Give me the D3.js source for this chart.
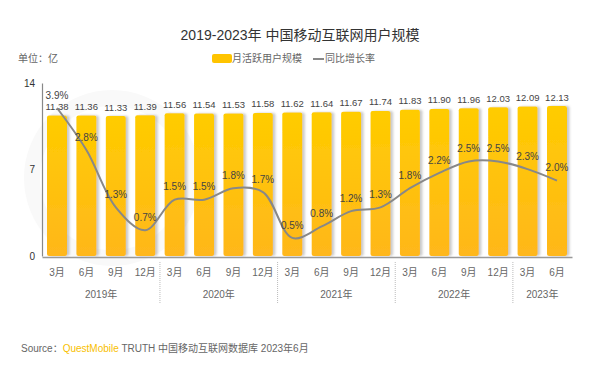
<!DOCTYPE html>
<html><head><meta charset="utf-8">
<script src="https://cdn.jsdelivr.net/npm/d3@7/dist/d3.min.js"></script>
<style>
html,body{margin:0;padding:0;background:#fff;}
svg text{font-family:"Liberation Sans","Noto Sans CJK SC",sans-serif;}
</style></head>
<body>
<svg id="chart" width="600" height="369"></svg>
<script>
const months = ["3月","6月","9月","12月","3月","6月","9月","12月","3月","6月","9月","12月","3月","6月","9月","12月","3月","6月"];
const yearLabels = ["2019年","2020年","2021年","2022年","2023年"];
const yearSizes = [4,4,4,4,2];
const mau = [11.38,11.36,11.33,11.39,11.56,11.54,11.53,11.58,11.62,11.64,11.67,11.74,11.83,11.90,11.96,12.03,12.09,12.13];
const growth = [3.9,2.8,1.3,0.7,1.5,1.5,1.8,1.7,0.5,0.8,1.2,1.3,1.8,2.2,2.5,2.5,2.3,2.0];
const yTicks = [0,7,14];

const svg = d3.select("#chart");
svg.append("rect").attr("width",600).attr("height",369).attr("fill","#fff");

const defs = svg.append("defs");
const grad = defs.append("linearGradient").attr("id","barGrad").attr("x1",0).attr("y1",0).attr("x2",0).attr("y2",1);
grad.append("stop").attr("offset","0%").attr("stop-color","#FFCC00");
grad.append("stop").attr("offset","100%").attr("stop-color","#FFB71B");
const f = defs.append("filter").attr("id","shadow").attr("x","-20%").attr("y","-5%").attr("width","150%").attr("height","110%");
f.append("feDropShadow").attr("dx",2.5).attr("dy",0).attr("stdDeviation",1).attr("flood-color","#888").attr("flood-opacity",0.45);

// faint watermark
svg.append("circle").attr("cx",112).attr("cy",178).attr("r",80)
  .attr("fill","none").attr("stroke","#f9f9f9").attr("stroke-width",16);

const x = d3.scaleBand().domain(d3.range(mau.length)).range([42,572]).paddingInner(0.32).paddingOuter(0.17);
const y = d3.scaleLinear().domain([0,14]).range([256,83]);
const y2 = d3.scaleLinear().domain([0,4.58]).range([257,82]);

// title
svg.append("text").attr("x",300).attr("y",36).attr("text-anchor","middle").attr("dominant-baseline","middle")
  .attr("font-size",14).attr("fill","#333").text("2019-2023年 中国移动互联网用户规模");
svg.append("text").attr("x",18).attr("y",59).attr("dominant-baseline","middle")
  .attr("font-size",10).attr("fill","#666").text("单位：亿");

// legend
svg.append("rect").attr("x",212).attr("y",54).attr("width",20).attr("height",9).attr("rx",2).attr("fill","#FFC400");
svg.append("text").attr("x",232).attr("y",59).attr("dominant-baseline","middle").attr("font-size",10).attr("fill","#666").text("月活跃用户规模");
svg.append("line").attr("x1",313).attr("x2",324).attr("y1",59).attr("y2",59).attr("stroke","#888").attr("stroke-width",2);
svg.append("text").attr("x",325).attr("y",59).attr("dominant-baseline","middle").attr("font-size",10).attr("fill","#666").text("同比增长率");

// bars
svg.append("g").selectAll("rect").data(mau).join("rect")
  .attr("x",(d,i)=>x(i)).attr("y",d=>y(d)).attr("width",x.bandwidth()).attr("height",d=>y(0)-y(d))
  .attr("rx",2).attr("fill","url(#barGrad)").attr("filter","url(#shadow)");

// y axis
const yAxis = d3.axisLeft(y).tickValues(yTicks).tickSize(0).tickPadding(7);
const gy = svg.append("g").attr("transform","translate(42,0)").call(yAxis);
gy.select(".domain").attr("stroke","#888").attr("stroke-width",1.2);
gy.selectAll("text").attr("font-size",10).attr("fill","#333");

// x axis (baseline + month labels)
const xAxis = d3.axisBottom(x).tickFormat(i=>months[i]).tickSize(0).tickPadding(12);
const gx = svg.append("g").attr("transform","translate(0,257)").call(xAxis);
gx.select(".domain").attr("stroke","#999").attr("stroke-width",1.5);
gx.selectAll("text").attr("font-size",10).attr("fill","#666");

// year labels & separators
let start = 0;
yearLabels.forEach((yl,k)=>{
  const end = start + yearSizes[k] - 1;
  const cx = (x(start) + x(end) + x.bandwidth())/2;
  svg.append("text").attr("x",cx).attr("y",295).attr("text-anchor","middle").attr("dominant-baseline","middle")
    .attr("font-size",10).attr("fill","#666").text(yl);
  if (k>0) {
    const sx = x(start) - x.step()*x.paddingInner()/2;
    svg.append("line").attr("x1",sx).attr("x2",sx).attr("y1",262).attr("y2",304)
      .attr("stroke","#bbb").attr("stroke-width",1).attr("stroke-dasharray","1,1");
  }
  start = end + 1;
});

// line
const line = d3.line().x((d,i)=>x(i)+x.bandwidth()/2).y(d=>y2(d)).curve(d3.curveCatmullRom.alpha(0.5));
svg.append("path").datum(growth).attr("d",line).attr("fill","none").attr("stroke","#888").attr("stroke-width",2);

// bar labels
svg.append("g").selectAll("text").data(mau).join("text")
  .attr("x",(d,i)=>x(i)+x.bandwidth()/2).attr("y",d=>y(d)-8)
  .attr("text-anchor","middle").attr("dominant-baseline","middle")
  .attr("font-size",9.5).attr("fill","#444").text(d=>d.toFixed(2));

// rate labels
svg.append("g").selectAll("text").data(growth).join("text")
  .attr("x",(d,i)=>x(i)+x.bandwidth()/2).attr("y",d=>y2(d)-12)
  .attr("text-anchor","middle").attr("dominant-baseline","middle")
  .attr("font-size",10).attr("fill","#444").text(d=>d.toFixed(1)+"%");

// source
const src = svg.append("text").attr("x",21).attr("y",349).attr("dominant-baseline","middle").attr("font-size",10).attr("fill","#666");
src.append("tspan").text("Source：");
src.append("tspan").attr("fill","#F8C000").text("QuestMobile");
src.append("tspan").text(" TRUTH 中国移动互联网数据库 2023年6月");
</script>
</body></html>
